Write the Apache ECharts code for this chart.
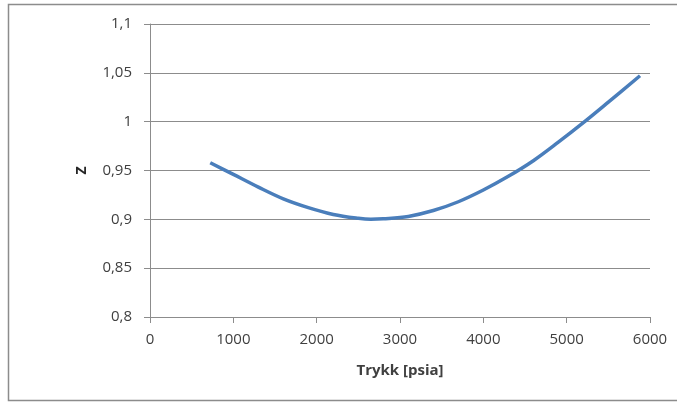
<!DOCTYPE html>
<html>
<head>
<meta charset="utf-8">
<script src="https://cdn.jsdelivr.net/npm/echarts@6/dist/echarts.min.js"></script>
<style>
  html, body { margin: 0; padding: 0; background: #fff; }
  #main { width: 677px; height: 403px; }
</style>
</head>
<body>
<div id="main"></div>
<script>
// trykk (psia) og Z-faktor, lest av figuren
var trykk = [723, 1000, 1300, 1600, 1900, 2200, 2500, 2650, 2800, 3100, 3400, 3700, 4000, 4300, 4600, 4900, 5200, 5500, 5880];
var zFaktor = [0.958, 0.946, 0.933, 0.921, 0.912, 0.905, 0.901, 0.900, 0.9005, 0.903, 0.909, 0.918, 0.930, 0.944, 0.960, 0.979, 0.999, 1.020, 1.047];

var data = [];
for (var i = 0; i < trykk.length; i++) {
  data.push([trykk[i], zFaktor[i]]);
}

var font = 'Open Sans, Liberation Sans, sans-serif';
var myChart = echarts.init(document.getElementById('main'), null, { renderer: 'canvas' });
var option = {
  animation: false,
  backgroundColor: '#fff',
  graphic: [{
    type: 'rect',
    shape: { x: 8.5, y: 4.5, width: 700, height: 396 },
    style: { fill: 'none', stroke: '#8c8c8c', lineWidth: 1.5 },
    silent: true
  }],
  grid: { left: 150, right: 27, top: 24, bottom: 86 },
  xAxis: {
    type: 'value',
    min: 0,
    max: 6000,
    interval: 1000,
    name: 'Trykk [psia]',
    nameLocation: 'middle',
    nameGap: 46,
    nameTextStyle: { fontFamily: font, fontWeight: 'bold', fontSize: 15, color: '#404040' },
    axisLine: { show: true, lineStyle: { color: '#8c8c8c', width: 1 } },
    axisTick: { show: true, length: 6, inside: false, lineStyle: { color: '#8c8c8c' } },
    axisLabel: {
      fontFamily: font, fontSize: 15, color: '#404040', margin: 15,
      formatter: function (v) { return String(v); }
    },
    splitLine: { show: false }
  },
  yAxis: {
    type: 'value',
    min: 0.8,
    max: 1.1,
    interval: 0.05,
    name: 'Z',
    nameLocation: 'middle',
    nameGap: 61,
    nameTextStyle: { fontFamily: font, fontWeight: 'bold', fontSize: 14, color: '#262626' },
    axisLine: { show: true, lineStyle: { color: '#8c8c8c', width: 1 } },
    axisTick: { show: true, length: 6, lineStyle: { color: '#8c8c8c' } },
    axisLabel: {
      fontFamily: font, fontSize: 15, color: '#404040', margin: 18,
      formatter: function (v) { return (+v.toFixed(2)).toString().replace('.', ','); }
    },
    splitLine: { show: true, lineStyle: { color: '#8c8c8c', width: 1 } }
  },
  series: [{
    name: 'Z',
    type: 'line',
    smooth: 0.35,
    showSymbol: false,
    data: data,
    lineStyle: { color: '#4a7ebb', width: 3.5 },
    itemStyle: { color: '#4a7ebb' }
  }]
};
myChart.setOption(option);
</script>
</body>
</html>
